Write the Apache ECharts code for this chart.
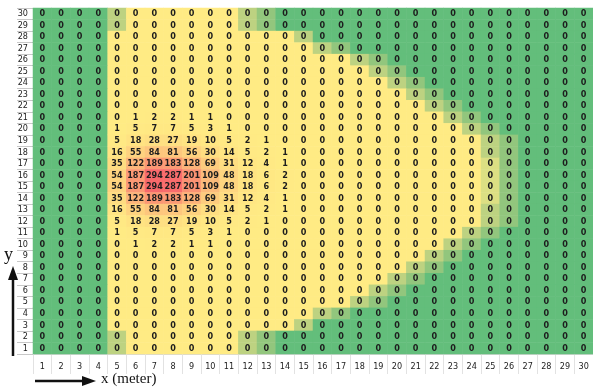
<!DOCTYPE html>
<html>
<head>
<meta charset="utf-8">
<script src="https://cdn.jsdelivr.net/npm/echarts@6/dist/echarts.min.js"></script>
<style>
html, body { margin: 0; padding: 0; background: #fff; }
#chart { width: 593px; height: 389px; }
</style>
</head>
<body>
<div id="chart"></div>
<script>
// column / row labels
const xLabels = ['1','2','3','4','5','6','7','8','9','10','11','12','13','14','15',
                 '16','17','18','19','20','21','22','23','24','25','26','27','28','29','30'];
const yLabels = ['1','2','3','4','5','6','7','8','9','10','11','12','13','14','15',
                 '16','17','18','19','20','21','22','23','24','25','26','27','28','29','30'];

// non-zero block: rows 21..10 (top to bottom), columns 5..14
const peakRows = [21, 20, 19, 18, 17, 16, 15, 14, 13, 12, 11, 10];
const peakCols = [5, 6, 7, 8, 9, 10, 11, 12, 13, 14];
const peakValues = [
    [0, 1, 2, 2, 1, 1, 0, 0, 0, 0],
    [1, 5, 7, 7, 5, 3, 1, 0, 0, 0],
    [5, 18, 28, 27, 19, 10, 5, 2, 1, 0],
    [16, 55, 84, 81, 56, 30, 14, 5, 2, 1],
    [35, 122, 189, 183, 128, 69, 31, 12, 4, 1],
    [54, 187, 294, 287, 201, 109, 48, 18, 6, 2],
    [54, 187, 294, 287, 201, 109, 48, 18, 6, 2],
    [35, 122, 189, 183, 128, 69, 31, 12, 4, 1],
    [16, 55, 84, 81, 56, 30, 14, 5, 2, 1],
    [5, 18, 28, 27, 19, 10, 5, 2, 1, 0],
    [1, 5, 7, 7, 5, 3, 1, 0, 0, 0],
    [0, 1, 2, 2, 1, 1, 0, 0, 0, 0]
];

// shading of the zero cells (row 30 first), G=green m=mid l=light p=pale Y=yellow
const zoneRows = [
    'GGGGl YYYYY YlmGG GGGGG GGGGG GGGGG', // 30
    'GGGGl YYYYY YlmGG GGGGG GGGGG GGGGG', // 29
    'GGGGY YYYYY YYYYl GGGGG GGGGG GGGGG', // 28
    'GGGGY YYYYY YYYYY lmGGG GGGGG GGGGG', // 27
    'GGGGY YYYYY YYYYY YYlmG GGGGG GGGGG', // 26
    'GGGGY YYYYY YYYYY YYYlm GGGGG GGGGG', // 25
    'GGGGY YYYYY YYYYY YYYYl mGGGG GGGGG', // 24
    'GGGGY YYYYY YYYYY YYYYY lmGGG GGGGG', // 23
    'GGGGY YYYYY YYYYY YYYYY YlmGG GGGGG', // 22
    'GGGGY YYYYY YYYYY YYYYY YYlmG GGGGG', // 21
    'GGGGY YYYYY YYYYY YYYYY YYYlm GGGGG', // 20
    'GGGGY YYYYY YYYYY YYYYY YYYYl mGGGG', // 19
    'GGGGY YYYYY YYYYY YYYYY YYYYl mGGGG', // 18
    'GGGGY YYYYY YYYYY YYYYY YYYYp mGGGG', // 17
    'GGGGY YYYYY YYYYY YYYYY YYYYp mGGGG', // 16
    'GGGGY YYYYY YYYYY YYYYY YYYYp mGGGG', // 15
    'GGGGY YYYYY YYYYY YYYYY YYYYp mGGGG', // 14
    'GGGGY YYYYY YYYYY YYYYY YYYYl mGGGG', // 13
    'GGGGY YYYYY YYYYY YYYYY YYYYl mGGGG', // 12
    'GGGGY YYYYY YYYYY YYYYY YYYlm GGGGG', // 11
    'GGGGY YYYYY YYYYY YYYYY YYlmG GGGGG', // 10
    'GGGGY YYYYY YYYYY YYYYY YlmGG GGGGG', // 9
    'GGGGY YYYYY YYYYY YYYYY lmGGG GGGGG', // 8
    'GGGGY YYYYY YYYYY YYYYl mGGGG GGGGG', // 7
    'GGGGY YYYYY YYYYY YYYlm GGGGG GGGGG', // 6
    'GGGGY YYYYY YYYYY YYlmG GGGGG GGGGG', // 5
    'GGGGY YYYYY YYYYY lmGGG GGGGG GGGGG', // 4
    'GGGGY YYYYY YYYYl GGGGG GGGGG GGGGG', // 3
    'GGGGl YYYYY YlmGG GGGGG GGGGG GGGGG', // 2
    'GGGGl YYYYY YlmGG GGGGG GGGGG GGGGG'  // 1
];
const zoneKeys = 'GmlpY';
const zoneColors = ['#63BE7B', '#92C67D', '#BDD281', '#DCDF83', '#FFEB84'];

// build heatmap data
const valueAt = {};
peakRows.forEach((r, i) => {
    peakCols.forEach((c, j) => { valueAt[c + '_' + r] = peakValues[i][j]; });
});
const zeroCells = [];
const hotCells = [];
zoneRows.forEach((s, i) => {
    const row = 30 - i;
    const tones = s.replace(/ /g, '');
    for (let c = 1; c <= 30; c++) {
        const v = valueAt[c + '_' + row] || 0;
        if (v > 0) hotCells.push([c - 1, row - 1, v]);
        else zeroCells.push([c - 1, row - 1, 0, zoneKeys.indexOf(tones[c - 1])]);
    }
});

const cellFont = '"DejaVu Sans Condensed", "Liberation Sans Narrow", "Liberation Sans", sans-serif';
const chart = echarts.init(document.getElementById('chart'));
const cellLabel = {
    show: true,
    formatter: p => p.value[2],
    fontFamily: cellFont,
    fontWeight: 'bold',
    fontSize: 9,
    color: '#1d1d1d'
};
chart.setOption({
    animation: false,
    grid: { left: 33, right: 0, top: 8, bottom: 35 },
    xAxis: {
        type: 'category',
        data: xLabels,
        axisLine: { show: true, lineStyle: { color: '#d8d8d8' } },
        axisTick: { show: true, length: 20, lineStyle: { color: '#e2e2e2' } },
        axisLabel: { margin: 8, fontFamily: cellFont, fontSize: 9, color: '#222', interval: 0 },
        splitLine: { show: false }
    },
    yAxis: {
        type: 'category',
        data: yLabels,
        axisLine: { show: false },
        axisTick: { show: true, length: 16, lineStyle: { color: '#c8c8c8' } },
        axisLabel: { margin: 5, fontFamily: cellFont, fontSize: 9, color: '#222', interval: 0 },
        splitLine: { show: false }
    },
    visualMap: [
        {
            type: 'piecewise',
            show: false,
            seriesIndex: 0,
            dimension: 3,
            pieces: zoneColors.map((c, i) => ({ value: i, color: c }))
        },
        {
            type: 'continuous',
            show: false,
            seriesIndex: 1,
            dimension: 2,
            min: 0,
            max: 294,
            inRange: { color: ['#FFEB84', '#F8696B'] }
        }
    ],
    series: [
        {
            type: 'heatmap',
            data: zeroCells,
            label: cellLabel,
            itemStyle: { borderWidth: 0 },
            emphasis: { disabled: true }
        },
        {
            type: 'heatmap',
            data: hotCells,
            label: cellLabel,
            itemStyle: { borderWidth: 0 },
            emphasis: { disabled: true }
        }
    ],
    graphic: [
        { type: 'text', left: 4, top: 246, style: { text: 'y', font: '18px "Liberation Serif"', fill: '#111' } },
        { type: 'line', shape: { x1: 13, y1: 356, x2: 13, y2: 278 }, style: { stroke: '#111', lineWidth: 2.5 } },
        { type: 'polygon', shape: { points: [[8, 280], [18, 280], [13, 266]] }, style: { fill: '#111' } },
        { type: 'line', shape: { x1: 35, y1: 381, x2: 84, y2: 381 }, style: { stroke: '#111', lineWidth: 2.5 } },
        { type: 'polygon', shape: { points: [[82, 376], [82, 386], [96, 381]] }, style: { fill: '#111' } },
        { type: 'text', left: 101, top: 372, style: { text: 'x (meter)', font: '15px "Liberation Serif"', fill: '#111' } }
    ]
});
</script>
</body>
</html>
